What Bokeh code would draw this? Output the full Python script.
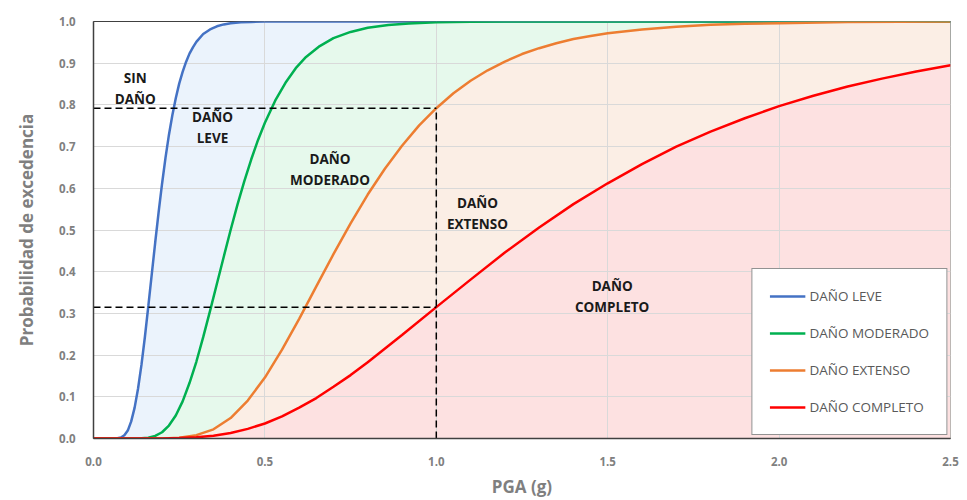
from bokeh.plotting import figure
from bokeh.models import Range1d, FixedTicker, NumeralTickFormatter, Legend, LegendItem
from bokeh.embed import file_html
from bokeh.resources import INLINE
from bokeh.core.properties import value

# ---- data ----
leve_x = [0.0, 0.06, 0.07, 0.08, 0.09, 0.10, 0.11, 0.12, 0.13, 0.14, 0.15, 0.16, 0.17, 0.18, 0.19, 0.20, 0.21, 0.22,
          0.23, 0.24, 0.25, 0.26, 0.27, 0.28, 0.29, 0.30, 0.32, 0.34, 0.36, 0.38, 0.40, 0.43, 0.46, 0.50, 2.5]
leve_y = [0.0, 0.0, 0.0005, 0.0024, 0.0077, 0.019, 0.041, 0.074, 0.120, 0.177, 0.244, 0.318, 0.394, 0.470, 0.543, 0.611, 0.673, 0.728,
          0.775, 0.816, 0.851, 0.879, 0.903, 0.923, 0.938, 0.951, 0.970, 0.981, 0.9885, 0.993, 0.9957, 0.998, 0.999, 1.0, 1.0]

mod_x = [0.0, 0.12, 0.14, 0.16, 0.18, 0.20, 0.22, 0.24, 0.26, 0.28, 0.30, 0.32, 0.34, 0.36, 0.38, 0.40, 0.42, 0.44, 0.46, 0.48,
         0.50, 0.53, 0.56, 0.59, 0.62, 0.66, 0.70, 0.75, 0.80, 0.86, 0.92, 1.00, 1.10, 1.20, 2.5]
mod_y = [0.0, 0.0, 0.0005, 0.0021, 0.0063, 0.015, 0.031, 0.055, 0.089, 0.133, 0.184, 0.243, 0.306, 0.371, 0.436, 0.5, 0.561, 0.617, 0.669, 0.716,
         0.757, 0.810, 0.853, 0.888, 0.915, 0.941, 0.960, 0.975, 0.985, 0.9916, 0.9954, 0.998, 0.9992, 1.0, 1.0]

ext_x = [0.0, 0.18, 0.20, 0.22, 0.25, 0.30, 0.35, 0.40, 0.45, 0.50, 0.55, 0.60, 0.65, 0.70, 0.75, 0.80, 0.85, 0.90, 0.95, 1.00,
         1.05, 1.10, 1.15, 1.20, 1.25, 1.30, 1.35, 1.40, 1.45, 1.50, 1.60, 1.70, 1.80, 1.90, 2.00, 2.20, 2.50]
ext_y = [0.0, 0.0, 0.0002, 0.0005, 0.002, 0.008, 0.022, 0.049, 0.091, 0.146, 0.213, 0.287, 0.365, 0.442, 0.516, 0.585, 0.647, 0.702, 0.751, 0.792,
         0.828, 0.858, 0.883, 0.904, 0.922, 0.936, 0.948, 0.958, 0.965, 0.972, 0.981, 0.9876, 0.992, 0.9945, 0.996, 0.999, 1.0]

comp_x = [0.0, 0.2, 0.25, 0.3, 0.35, 0.4, 0.45, 0.5, 0.55, 0.6, 0.65, 0.7, 0.75, 0.8, 0.9, 1.0, 1.1, 1.2, 1.3, 1.4, 1.5,
          1.6, 1.7, 1.8, 1.9, 2.0, 2.1, 2.2, 2.3, 2.4, 2.5]
comp_y = [0.0, 0.0, 0.001, 0.003, 0.0068, 0.013, 0.023, 0.036, 0.053, 0.074, 0.097, 0.124, 0.152, 0.183, 0.248, 0.315, 0.381, 0.446, 0.506, 0.562, 0.612,
          0.658, 0.700, 0.736, 0.768, 0.797, 0.822, 0.844, 0.863, 0.880, 0.895]

series_names = ["DAÑO LEVE", "DAÑO MODERADO", "DAÑO EXTENSO", "DAÑO COMPLETO"]
x_ticks = [0.0, 0.5, 1.0, 1.5, 2.0, 2.5]
y_ticks = [0.0, 0.1, 0.2, 0.3, 0.4, 0.5, 0.6, 0.7, 0.8, 0.9, 1.0]
ref_pga = 1.0

region_labels = ["SIN\nDAÑO", "DAÑO\nLEVE", "DAÑO\nMODERADO", "DAÑO\nEXTENSO", "DAÑO\nCOMPLETO"]
region_x = [0.122, 0.347, 0.69, 1.12, 1.513]
region_y = [0.84, 0.745, 0.645, 0.54, 0.34]

# ---- styling ----
line_colors = ["#4472C4", "#00B050", "#ED7D31", "#FF0000"]
fill_colors = ["#EBF3FC", "#E6F9EC", "#FBEEE5", "#FDE1E1"]
FONT = "Open Sans"

p = figure(width=962, height=500, output_backend="svg", toolbar_location=None,
           x_range=Range1d(0, 2.5), y_range=Range1d(0, 1.0),
           min_border_left=93, min_border_top=21, min_border_right=12, min_border_bottom=61)
p.background_fill_color = "white"
p.border_fill_color = "white"
p.outline_line_color = "#404040"
p.outline_line_width = 1

xs = [leve_x, mod_x, ext_x, comp_x]
ys = [leve_y, mod_y, ext_y, comp_y]

for x, y, fc in zip(xs, ys, fill_colors):
    r = p.varea(x=x, y1=0, y2=y, fill_color=fc, fill_alpha=1.0)
    r.level = "image"

lines = []
for x, y, lc in zip(xs, ys, line_colors):
    lines.append(p.line(x, y, line_color=lc, line_width=2.5))

# dashed reference lines at PGA = 1.0
y_e = ext_y[ext_x.index(ref_pga)]
y_c = comp_y[comp_x.index(ref_pga)]
p.line([0, ref_pga], [y_e, y_e], line_color="black", line_width=1.5, line_dash="7 4")
p.line([0, ref_pga], [y_c, y_c], line_color="black", line_width=1.5, line_dash="7 4")
p.line([ref_pga, ref_pga], [0, y_e], line_color="black", line_width=1.5, line_dash="7 4")

p.text(x=region_x, y=region_y, text=region_labels, text_font=value(FONT), text_font_style="bold",
       text_font_size="13.5px", text_align="center", text_baseline="middle", text_color="#1a1a1a",
       text_line_height=1.15)

p.xaxis.ticker = FixedTicker(ticks=x_ticks)
p.yaxis.ticker = FixedTicker(ticks=y_ticks)
p.xaxis.formatter = NumeralTickFormatter(format="0.0")
p.yaxis.formatter = NumeralTickFormatter(format="0.0")
for ax in (p.xaxis, p.yaxis):
    ax.major_tick_line_color = None
    ax.minor_tick_line_color = None
    ax.axis_line_color = "#404040"
    ax.axis_line_width = 1.5
    ax.major_label_text_font = FONT
    ax.major_label_text_font_size = "11.5px"
    ax.major_label_text_font_style = "bold"
    ax.major_label_text_color = "#808080"
    ax.axis_label_text_font = FONT
    ax.axis_label_text_font_size = "17px"
    ax.axis_label_text_font_style = "bold"
    ax.axis_label_text_color = "#7F7F7F"
p.xaxis.axis_label = "PGA (g)"
p.yaxis.axis_label = "Probabilidad de excedencia"
p.xaxis.major_label_standoff = 12
p.yaxis.major_label_standoff = 12
p.xaxis.axis_label_standoff = 6
p.yaxis.axis_label_standoff = 18

p.xgrid.grid_line_color = "#D9D9D9"
p.ygrid.grid_line_color = "#D9D9D9"
p.xgrid.grid_line_width = 1
p.ygrid.grid_line_width = 1

legend = Legend(items=[LegendItem(label=n, renderers=[r]) for n, r in zip(series_names, lines)],
                location="bottom_right")
legend.margin = 3
legend.padding = 17
legend.spacing = 17
legend.glyph_width = 36
legend.glyph_height = 20
legend.label_height = 20
legend.label_standoff = 4
legend.label_text_font = FONT
legend.label_text_font_size = "13.5px"
legend.label_text_color = "#595959"
legend.border_line_color = "#262626"
legend.border_line_width = 1
legend.background_fill_color = "white"
legend.background_fill_alpha = 1.0
p.add_layout(legend)

open("out.html", "w").write(file_html(p, INLINE))
